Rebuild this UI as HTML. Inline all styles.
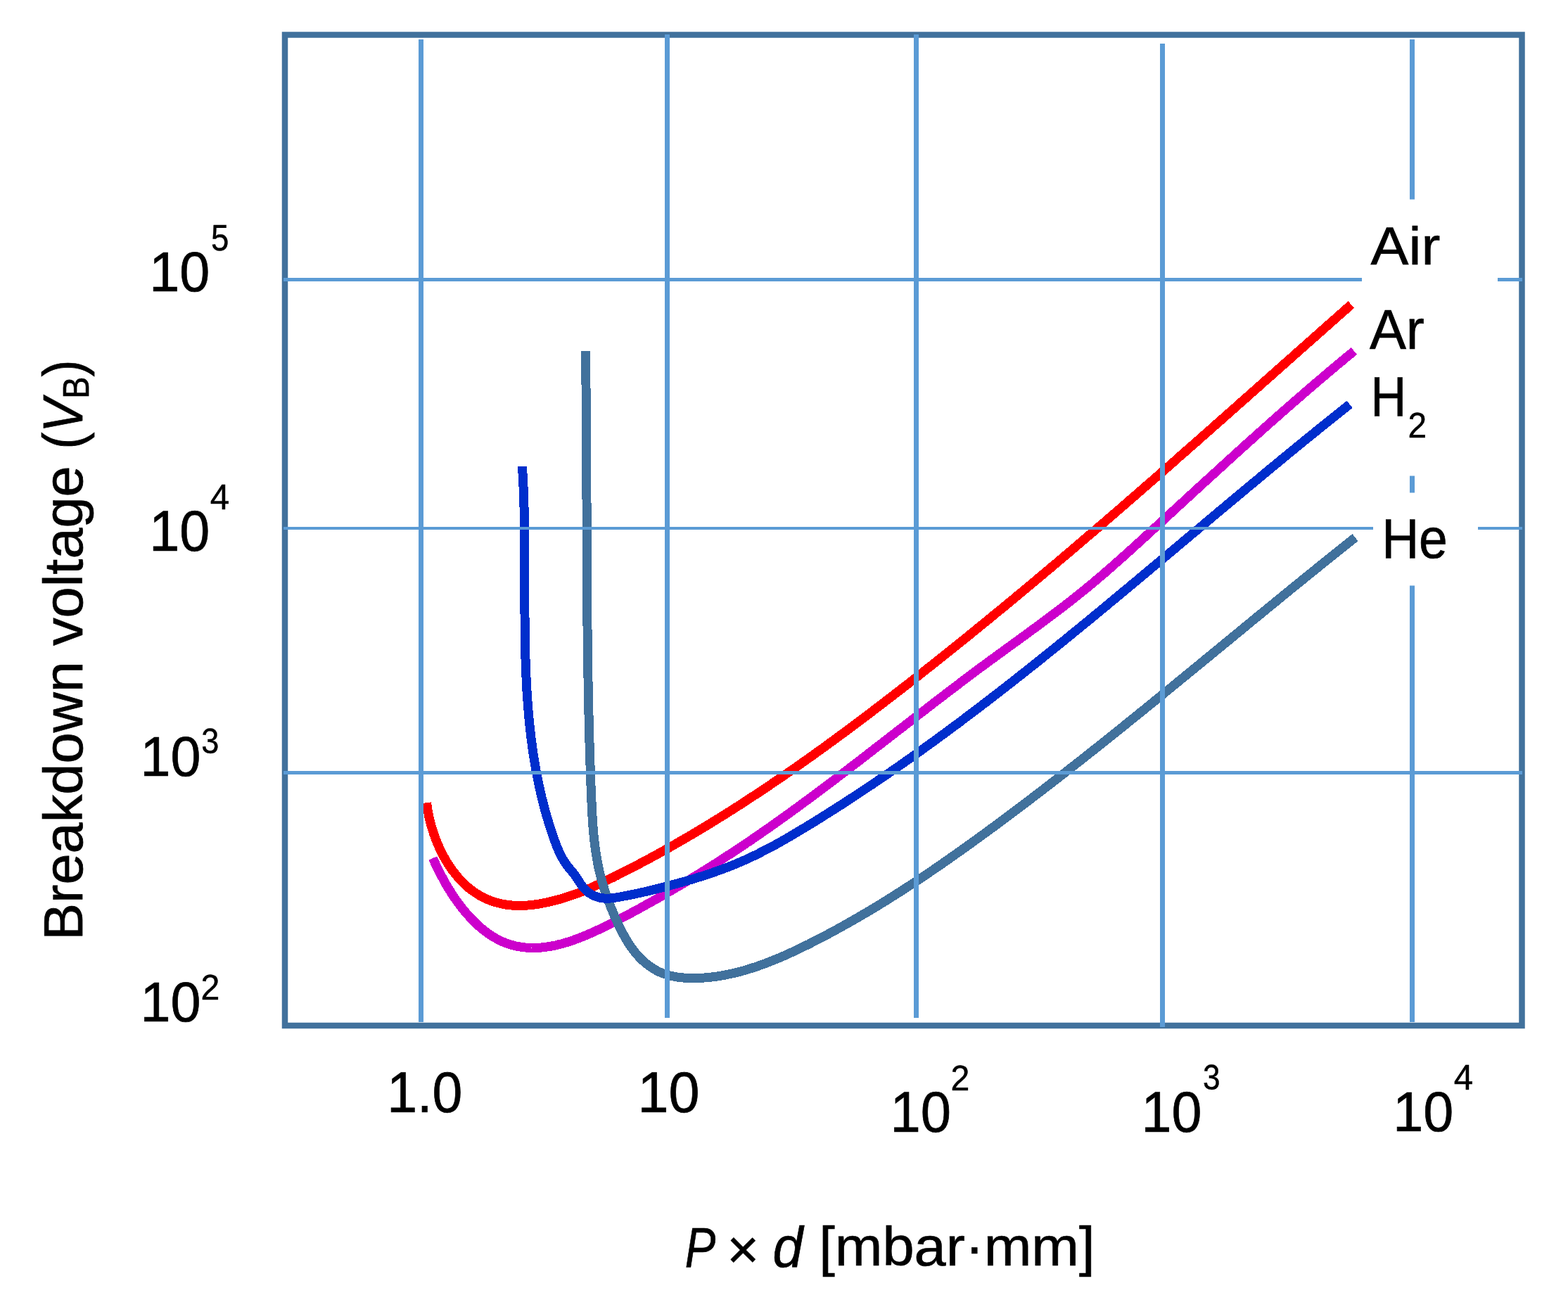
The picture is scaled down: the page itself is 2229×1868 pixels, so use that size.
<!DOCTYPE html>
<html><head><meta charset="utf-8"><title>Paschen curves</title>
<style>html,body{margin:0;padding:0;background:#fff;overflow:hidden}svg{display:block}text{font-family:'Liberation Sans', Arial, sans-serif;fill:#000;stroke:#000;stroke-width:0.9px}</style>
</head><body>
<svg width="2229" height="1868" viewBox="0 0 2229 1868">
<rect x='0' y='0' width='2229' height='1868' fill='#fff'/>
<rect x='405' y='49.5' width='1758.5' height='1408.5' fill='none' stroke='#41719C' stroke-width='8.5'/>
<path d='M615.4,1220.0 L617.0,1223.6 L618.6,1227.2 L620.4,1230.9 L622.1,1234.6 L623.9,1238.3 L625.8,1242.0 L627.8,1245.7 L629.8,1249.4 L631.8,1253.2 L633.9,1256.9 L636.1,1260.6 L638.3,1264.2 L640.6,1267.9 L642.9,1271.5 L645.3,1275.1 L647.8,1278.7 L650.3,1282.2 L652.8,1285.7 L655.5,1289.1 L658.1,1292.5 L660.8,1295.8 L663.6,1299.0 L666.4,1302.2 L669.3,1305.3 L672.2,1308.4 L675.2,1311.3 L678.2,1314.2 L681.2,1317.0 L684.4,1319.7 L687.5,1322.2 L690.7,1324.7 L694.0,1327.1 L697.3,1329.3 L700.7,1331.5 L704.1,1333.5 L707.5,1335.4 L711.0,1337.1 L714.5,1338.8 L718.1,1340.2 L721.7,1341.6 L725.4,1342.8 L729.1,1343.8 L732.8,1344.8 L736.5,1345.5 L740.3,1346.2 L744.1,1346.7 L747.9,1347.1 L751.7,1347.4 L755.5,1347.5 L759.3,1347.5 L763.1,1347.4 L767.0,1347.2 L770.8,1346.9 L774.7,1346.5 L778.5,1345.9 L782.4,1345.3 L786.3,1344.6 L790.2,1343.8 L794.1,1342.8 L797.9,1341.9 L801.8,1340.8 L805.7,1339.6 L809.6,1338.4 L813.5,1337.1 L817.4,1335.7 L821.3,1334.3 L825.2,1332.8 L829.1,1331.2 L833.0,1329.6 L836.9,1327.9 L840.8,1326.2 L844.7,1324.5 L848.6,1322.7 L852.4,1320.9 L856.3,1319.0 L860.2,1317.1 L864.0,1315.2 L867.9,1313.3 L871.7,1311.3 L875.5,1309.4 L879.3,1307.4 L883.1,1305.4 L886.9,1303.4 L890.7,1301.4 L894.5,1299.4 L898.3,1297.4 L902.0,1295.3 L905.7,1293.3 L909.5,1291.3 L913.2,1289.2 L916.9,1287.2 L920.6,1285.1 L924.3,1283.1 L928.0,1281.0 L931.6,1279.0 L935.3,1276.9 L938.9,1274.8 L942.6,1272.7 L946.2,1270.6 L949.8,1268.5 L953.5,1266.4 L957.1,1264.3 L960.7,1262.2 L964.2,1260.1 L967.8,1258.0 L971.4,1255.8 L975.0,1253.7 L978.5,1251.5 L982.1,1249.4 L985.6,1247.2 L989.2,1245.1 L992.7,1242.9 L996.2,1240.7 L999.7,1238.5 L1003.2,1236.3 L1006.7,1234.1 L1010.2,1231.9 L1013.7,1229.7 L1017.2,1227.5 L1020.7,1225.3 L1024.1,1223.1 L1027.6,1220.8 L1031.1,1218.6 L1034.5,1216.3 L1038.0,1214.1 L1041.4,1211.8 L1044.8,1209.5 L1048.3,1207.3 L1051.7,1205.0 L1055.1,1202.7 L1058.5,1200.4 L1061.9,1198.1 L1065.4,1195.8 L1068.8,1193.5 L1072.2,1191.1 L1075.6,1188.8 L1079.0,1186.5 L1082.3,1184.1 L1085.7,1181.8 L1089.1,1179.4 L1092.5,1177.1 L1095.9,1174.7 L1099.3,1172.3 L1102.6,1169.9 L1106.0,1167.5 L1109.4,1165.1 L1112.7,1162.7 L1116.1,1160.3 L1119.5,1157.9 L1122.8,1155.5 L1126.2,1153.0 L1129.5,1150.6 L1132.9,1148.2 L1136.2,1145.7 L1139.6,1143.3 L1142.9,1140.8 L1146.3,1138.3 L1149.6,1135.9 L1152.9,1133.4 L1156.3,1130.9 L1159.6,1128.4 L1163.0,1125.9 L1166.3,1123.4 L1169.6,1120.9 L1173.0,1118.4 L1176.3,1115.9 L1179.6,1113.4 L1182.9,1110.9 L1186.3,1108.4 L1189.6,1105.8 L1192.9,1103.3 L1196.2,1100.8 L1199.6,1098.3 L1202.9,1095.7 L1206.2,1093.2 L1209.5,1090.6 L1212.8,1088.1 L1216.1,1085.6 L1219.5,1083.0 L1222.8,1080.5 L1226.1,1077.9 L1229.4,1075.3 L1232.7,1072.8 L1236.0,1070.2 L1239.3,1067.7 L1242.6,1065.1 L1245.9,1062.5 L1249.3,1060.0 L1252.6,1057.4 L1255.9,1054.8 L1259.2,1052.3 L1262.5,1049.7 L1265.8,1047.1 L1269.1,1044.6 L1272.4,1042.0 L1275.7,1039.4 L1279.0,1036.9 L1282.4,1034.3 L1285.7,1031.7 L1289.0,1029.2 L1292.3,1026.6 L1295.6,1024.0 L1298.9,1021.5 L1302.2,1018.9 L1305.5,1016.3 L1308.8,1013.8 L1312.2,1011.2 L1315.5,1008.7 L1318.8,1006.1 L1322.1,1003.5 L1325.4,1001.0 L1328.7,998.4 L1332.0,995.9 L1335.4,993.3 L1338.7,990.8 L1342.0,988.3 L1345.3,985.7 L1348.7,983.2 L1352.0,980.6 L1355.3,978.1 L1358.6,975.6 L1362.0,973.1 L1365.3,970.5 L1368.6,968.0 L1372.0,965.5 L1375.3,963.0 L1378.6,960.5 L1382.0,958.0 L1385.3,955.5 L1388.6,953.0 L1392.0,950.5 L1395.3,948.0 L1398.7,945.6 L1402.0,943.1 L1405.4,940.6 L1408.7,938.2 L1412.1,935.7 L1415.4,933.3 L1418.8,930.8 L1422.2,928.4 L1425.5,925.9 L1428.9,923.5 L1432.2,921.0 L1435.6,918.6 L1439.0,916.2 L1442.3,913.7 L1445.7,911.3 L1449.0,908.8 L1452.4,906.4 L1455.7,904.0 L1459.1,901.5 L1462.4,899.1 L1465.8,896.6 L1469.1,894.2 L1472.5,891.7 L1475.8,889.3 L1479.1,886.8 L1482.5,884.3 L1485.8,881.9 L1489.1,879.4 L1492.4,876.9 L1495.7,874.4 L1499.1,871.9 L1502.4,869.4 L1505.7,866.9 L1509.0,864.4 L1512.2,861.9 L1515.5,859.3 L1518.8,856.8 L1522.1,854.2 L1525.3,851.7 L1528.6,849.1 L1531.9,846.5 L1535.1,843.9 L1538.3,841.3 L1541.6,838.7 L1544.8,836.0 L1548.0,833.4 L1551.2,830.7 L1554.4,828.1 L1557.6,825.4 L1560.8,822.7 L1563.9,820.0 L1567.1,817.3 L1570.3,814.6 L1573.4,811.8 L1576.6,809.1 L1579.7,806.4 L1582.9,803.6 L1586.0,800.8 L1589.1,798.1 L1592.2,795.3 L1595.4,792.5 L1598.5,789.7 L1601.6,786.9 L1604.7,784.1 L1607.8,781.3 L1610.9,778.5 L1614.0,775.7 L1617.1,772.9 L1620.2,770.1 L1623.3,767.2 L1626.4,764.4 L1629.4,761.6 L1632.5,758.8 L1635.6,755.9 L1638.7,753.1 L1641.7,750.3 L1644.8,747.5 L1647.9,744.6 L1651.0,741.8 L1654.0,739.0 L1657.1,736.2 L1660.2,733.3 L1663.3,730.5 L1666.3,727.7 L1669.4,724.9 L1672.5,722.1 L1675.5,719.2 L1678.6,716.4 L1681.7,713.6 L1684.7,710.8 L1687.8,708.0 L1690.9,705.2 L1693.9,702.3 L1697.0,699.5 L1700.1,696.7 L1703.1,693.9 L1706.2,691.1 L1709.3,688.3 L1712.3,685.5 L1715.4,682.7 L1718.5,679.9 L1721.5,677.1 L1724.6,674.3 L1727.7,671.5 L1730.7,668.7 L1733.8,665.9 L1736.9,663.1 L1739.9,660.3 L1743.0,657.5 L1746.1,654.7 L1749.2,651.9 L1752.2,649.1 L1755.3,646.3 L1758.4,643.5 L1761.5,640.7 L1764.6,638.0 L1767.6,635.2 L1770.7,632.4 L1773.8,629.6 L1776.9,626.8 L1780.0,624.1 L1783.1,621.3 L1786.2,618.5 L1789.3,615.8 L1792.3,613.0 L1795.4,610.2 L1798.5,607.5 L1801.6,604.7 L1804.7,601.9 L1807.9,599.2 L1811.0,596.4 L1814.1,593.7 L1817.2,590.9 L1820.3,588.2 L1823.4,585.4 L1826.5,582.7 L1829.7,580.0 L1832.8,577.2 L1835.9,574.5 L1839.0,571.7 L1842.2,569.0 L1845.3,566.3 L1848.5,563.6 L1851.6,560.8 L1854.8,558.1 L1857.9,555.4 L1861.1,552.7 L1864.2,550.0 L1867.4,547.3 L1870.5,544.6 L1873.7,541.9 L1876.9,539.2 L1880.0,536.5 L1883.2,533.8 L1886.4,531.1 L1889.6,528.4 L1892.8,525.7 L1896.0,523.0 L1899.2,520.3 L1902.4,517.6 L1905.6,515.0 L1908.8,512.3 L1912.0,509.6 L1915.2,507.0 L1918.4,504.3 L1921.7,501.7 L1924.9,499.0' fill='none' stroke='#CC00CC' stroke-width='13' stroke-linejoin='round' stroke-linecap='butt' shape-rendering='crispEdges'/>
<path d='M606.6,1141.2 L607.1,1145.2 L607.7,1149.2 L608.3,1153.2 L609.1,1157.3 L609.9,1161.4 L610.9,1165.5 L611.9,1169.7 L613.0,1173.8 L614.2,1178.0 L615.6,1182.1 L616.9,1186.2 L618.4,1190.4 L620.0,1194.5 L621.7,1198.5 L623.4,1202.6 L625.2,1206.6 L627.1,1210.6 L629.1,1214.5 L631.2,1218.4 L633.4,1222.2 L635.6,1226.0 L637.9,1229.6 L640.4,1233.3 L642.8,1236.8 L645.4,1240.2 L648.1,1243.6 L650.8,1246.9 L653.6,1250.0 L656.5,1253.1 L659.4,1256.0 L662.4,1258.9 L665.5,1261.6 L668.7,1264.1 L672.0,1266.6 L675.3,1268.9 L678.7,1271.1 L682.1,1273.1 L685.6,1275.0 L689.2,1276.8 L692.8,1278.5 L696.5,1280.0 L700.2,1281.3 L704.0,1282.6 L707.8,1283.6 L711.7,1284.6 L715.6,1285.4 L719.5,1286.1 L723.4,1286.6 L727.4,1287.0 L731.4,1287.3 L735.4,1287.5 L739.5,1287.5 L743.5,1287.4 L747.6,1287.2 L751.7,1286.9 L755.8,1286.5 L759.9,1286.0 L764.0,1285.4 L768.1,1284.7 L772.2,1283.9 L776.3,1283.1 L780.4,1282.2 L784.5,1281.2 L788.6,1280.2 L792.7,1279.1 L796.7,1278.0 L800.8,1276.8 L804.8,1275.5 L808.8,1274.2 L812.8,1272.9 L816.8,1271.5 L820.8,1270.0 L824.7,1268.5 L828.6,1266.9 L832.5,1265.3 L836.4,1263.7 L840.3,1262.0 L844.1,1260.3 L848.0,1258.5 L851.8,1256.8 L855.6,1255.0 L859.4,1253.1 L863.2,1251.3 L867.0,1249.5 L870.8,1247.6 L874.6,1245.7 L878.4,1243.8 L882.1,1241.9 L885.9,1240.0 L889.7,1238.1 L893.4,1236.2 L897.2,1234.3 L900.9,1232.3 L904.6,1230.4 L908.4,1228.4 L912.1,1226.4 L915.8,1224.4 L919.6,1222.4 L923.3,1220.4 L927.0,1218.4 L930.7,1216.4 L934.4,1214.4 L938.1,1212.3 L941.8,1210.3 L945.5,1208.2 L949.2,1206.2 L952.8,1204.1 L956.5,1202.0 L960.2,1199.9 L963.8,1197.8 L967.5,1195.7 L971.2,1193.6 L974.8,1191.5 L978.5,1189.3 L982.1,1187.2 L985.8,1185.0 L989.4,1182.9 L993.0,1180.7 L996.6,1178.5 L1000.3,1176.4 L1003.9,1174.2 L1007.5,1172.0 L1011.1,1169.8 L1014.7,1167.5 L1018.3,1165.3 L1021.9,1163.1 L1025.5,1160.8 L1029.1,1158.6 L1032.7,1156.4 L1036.3,1154.1 L1039.9,1151.8 L1043.4,1149.6 L1047.0,1147.3 L1050.6,1145.0 L1054.1,1142.7 L1057.7,1140.4 L1061.2,1138.1 L1064.8,1135.8 L1068.3,1133.4 L1071.9,1131.1 L1075.4,1128.8 L1079.0,1126.4 L1082.5,1124.1 L1086.0,1121.7 L1089.6,1119.4 L1093.1,1117.0 L1096.6,1114.6 L1100.1,1112.2 L1103.6,1109.9 L1107.1,1107.5 L1110.6,1105.1 L1114.1,1102.7 L1117.6,1100.3 L1121.1,1097.8 L1124.6,1095.4 L1128.1,1093.0 L1131.6,1090.6 L1135.1,1088.1 L1138.5,1085.7 L1142.0,1083.2 L1145.5,1080.8 L1149.0,1078.3 L1152.4,1075.9 L1155.9,1073.4 L1159.3,1070.9 L1162.8,1068.4 L1166.2,1066.0 L1169.7,1063.5 L1173.1,1061.0 L1176.6,1058.5 L1180.0,1056.0 L1183.5,1053.5 L1186.9,1051.0 L1190.3,1048.4 L1193.7,1045.9 L1197.2,1043.4 L1200.6,1040.9 L1204.0,1038.3 L1207.4,1035.8 L1210.8,1033.3 L1214.2,1030.7 L1217.7,1028.2 L1221.1,1025.6 L1224.5,1023.1 L1227.9,1020.5 L1231.3,1017.9 L1234.6,1015.4 L1238.0,1012.8 L1241.4,1010.2 L1244.8,1007.6 L1248.2,1005.1 L1251.6,1002.5 L1255.0,999.9 L1258.3,997.3 L1261.7,994.7 L1265.1,992.1 L1268.4,989.5 L1271.8,986.9 L1275.2,984.3 L1278.5,981.7 L1281.9,979.1 L1285.2,976.5 L1288.6,973.9 L1292.0,971.3 L1295.3,968.6 L1298.7,966.0 L1302.0,963.4 L1305.3,960.8 L1308.7,958.1 L1312.0,955.5 L1315.4,952.9 L1318.7,950.2 L1322.0,947.6 L1325.4,945.0 L1328.7,942.3 L1332.0,939.7 L1335.3,937.0 L1338.7,934.4 L1342.0,931.8 L1345.3,929.1 L1348.6,926.5 L1351.9,923.8 L1355.2,921.1 L1358.5,918.5 L1361.8,915.8 L1365.2,913.2 L1368.5,910.5 L1371.8,907.8 L1375.1,905.2 L1378.4,902.5 L1381.7,899.8 L1385.0,897.2 L1388.2,894.5 L1391.5,891.8 L1394.8,889.1 L1398.1,886.5 L1401.4,883.8 L1404.7,881.1 L1408.0,878.4 L1411.2,875.7 L1414.5,873.0 L1417.8,870.3 L1421.1,867.6 L1424.4,865.0 L1427.6,862.3 L1430.9,859.6 L1434.2,856.9 L1437.4,854.2 L1440.7,851.5 L1444.0,848.8 L1447.2,846.0 L1450.5,843.3 L1453.8,840.6 L1457.0,837.9 L1460.3,835.2 L1463.5,832.5 L1466.8,829.8 L1470.0,827.1 L1473.3,824.3 L1476.5,821.6 L1479.8,818.9 L1483.0,816.2 L1486.3,813.4 L1489.5,810.7 L1492.8,808.0 L1496.0,805.2 L1499.3,802.5 L1502.5,799.8 L1505.7,797.0 L1509.0,794.3 L1512.2,791.6 L1515.4,788.8 L1518.7,786.1 L1521.9,783.3 L1525.1,780.6 L1528.4,777.8 L1531.6,775.1 L1534.8,772.3 L1538.1,769.6 L1541.3,766.8 L1544.5,764.1 L1547.7,761.3 L1550.9,758.6 L1554.2,755.8 L1557.4,753.0 L1560.6,750.3 L1563.8,747.5 L1567.0,744.7 L1570.3,742.0 L1573.5,739.2 L1576.7,736.4 L1579.9,733.7 L1583.1,730.9 L1586.3,728.1 L1589.5,725.3 L1592.8,722.6 L1596.0,719.8 L1599.2,717.0 L1602.4,714.2 L1605.6,711.4 L1608.8,708.7 L1612.0,705.9 L1615.2,703.1 L1618.4,700.3 L1621.6,697.5 L1624.8,694.7 L1628.0,691.9 L1631.2,689.1 L1634.4,686.3 L1637.6,683.6 L1640.8,680.8 L1644.0,678.0 L1647.2,675.2 L1650.4,672.4 L1653.6,669.6 L1656.8,666.8 L1660.0,664.0 L1663.2,661.2 L1666.4,658.4 L1669.6,655.6 L1672.8,652.7 L1675.9,649.9 L1679.1,647.1 L1682.3,644.3 L1685.5,641.5 L1688.7,638.7 L1691.9,635.9 L1695.1,633.1 L1698.3,630.3 L1701.5,627.5 L1704.6,624.7 L1707.8,621.8 L1711.0,619.0 L1714.2,616.2 L1717.4,613.4 L1720.6,610.6 L1723.8,607.8 L1726.9,605.0 L1730.1,602.1 L1733.3,599.3 L1736.5,596.5 L1739.7,593.7 L1742.9,590.9 L1746.0,588.1 L1749.2,585.2 L1752.4,582.4 L1755.6,579.6 L1758.8,576.8 L1761.9,574.0 L1765.1,571.1 L1768.3,568.3 L1771.5,565.5 L1774.7,562.7 L1777.8,559.9 L1781.0,557.0 L1784.2,554.2 L1787.4,551.4 L1790.5,548.6 L1793.7,545.8 L1796.9,542.9 L1800.1,540.1 L1803.3,537.3 L1806.4,534.5 L1809.6,531.6 L1812.8,528.8 L1816.0,526.0 L1819.1,523.2 L1822.3,520.4 L1825.5,517.5 L1828.7,514.7 L1831.8,511.9 L1835.0,509.1 L1838.2,506.3 L1841.4,503.4 L1844.5,500.6 L1847.7,497.8 L1850.9,495.0 L1854.1,492.2 L1857.3,489.3 L1860.4,486.5 L1863.6,483.7 L1866.8,480.9 L1870.0,478.1 L1873.1,475.3 L1876.3,472.5 L1879.5,469.6 L1882.7,466.8 L1885.8,464.0 L1889.0,461.2 L1892.2,458.4 L1895.4,455.6 L1898.6,452.8 L1901.7,450.0 L1904.9,447.1 L1908.1,444.3 L1911.3,441.5 L1914.4,438.7 L1917.6,435.9 L1920.8,433.1' fill='none' stroke='#FF0000' stroke-width='13' stroke-linejoin='round' stroke-linecap='butt' shape-rendering='crispEdges'/>
<path d='M832.4,499.0 L832.5,504.3 L832.5,509.5 L832.6,514.8 L832.7,520.1 L832.7,525.4 L832.8,530.6 L832.9,535.9 L832.9,541.2 L833.0,546.5 L833.0,551.7 L833.1,557.0 L833.1,562.3 L833.2,567.6 L833.2,572.8 L833.3,578.1 L833.3,583.4 L833.4,588.7 L833.4,593.9 L833.4,599.2 L833.5,604.5 L833.5,609.8 L833.5,615.0 L833.6,620.3 L833.6,625.6 L833.6,630.9 L833.6,636.1 L833.7,641.4 L833.7,646.7 L833.7,652.0 L833.8,657.3 L833.8,662.5 L833.8,667.8 L833.8,673.1 L833.8,678.4 L833.9,683.6 L833.9,688.9 L833.9,694.2 L833.9,699.5 L833.9,704.8 L834.0,710.0 L834.0,715.3 L834.0,720.6 L834.0,725.9 L834.0,731.2 L834.1,736.4 L834.1,741.7 L834.1,747.0 L834.1,752.3 L834.1,757.6 L834.2,762.8 L834.2,768.1 L834.2,773.4 L834.2,778.7 L834.3,784.0 L834.3,789.2 L834.3,794.5 L834.3,799.8 L834.4,805.1 L834.4,810.4 L834.4,815.6 L834.4,820.9 L834.5,826.2 L834.5,831.5 L834.5,836.8 L834.6,842.0 L834.6,847.3 L834.7,852.6 L834.7,857.9 L834.7,863.2 L834.8,868.4 L834.8,873.7 L834.9,879.0 L834.9,884.3 L835.0,889.6 L835.0,894.8 L835.1,900.1 L835.2,905.4 L835.2,910.7 L835.3,916.0 L835.3,921.2 L835.4,926.5 L835.5,931.8 L835.6,937.1 L835.6,942.4 L835.7,947.6 L835.8,952.9 L835.9,958.2 L836.0,963.5 L836.0,968.7 L836.1,974.0 L836.2,979.3 L836.3,984.6 L836.4,989.9 L836.5,995.1 L836.7,1000.4 L836.8,1005.7 L836.9,1011.0 L837.0,1016.2 L837.1,1021.5 L837.2,1026.8 L837.4,1032.1 L837.5,1037.4 L837.7,1042.6 L837.8,1047.9 L837.9,1053.2 L838.1,1058.5 L838.2,1063.7 L838.4,1069.0 L838.6,1074.3 L838.7,1079.6 L838.9,1084.8 L839.1,1090.1 L839.3,1095.4 L839.4,1100.7 L839.6,1105.9 L839.8,1111.2 L840.0,1116.5 L840.2,1121.8 L840.4,1127.0 L840.7,1132.3 L840.9,1137.6 L841.1,1142.8 L841.4,1148.1 L841.6,1153.4 L841.9,1158.6 L842.2,1163.9 L842.6,1169.1 L842.9,1174.4 L843.4,1179.6 L843.8,1184.9 L844.3,1190.1 L844.9,1195.3 L845.5,1200.5 L846.2,1205.7 L846.9,1210.9 L847.7,1216.1 L848.6,1221.2 L849.5,1226.4 L850.5,1231.5 L851.6,1236.6 L852.8,1241.7 L854.1,1246.8 L855.5,1251.8 L856.9,1256.9 L858.5,1261.9 L860.1,1267.0 L861.8,1272.0 L863.5,1277.0 L865.4,1282.0 L867.3,1287.0 L869.3,1292.0 L871.4,1297.0 L873.5,1302.0 L875.7,1307.0 L878.0,1311.9 L880.3,1316.9 L882.7,1321.8 L885.2,1326.7 L887.9,1331.4 L890.6,1336.1 L893.4,1340.7 L896.4,1345.2 L899.4,1349.5 L902.6,1353.6 L906.0,1357.6 L909.5,1361.5 L913.1,1365.1 L916.9,1368.5 L920.8,1371.6 L924.9,1374.6 L929.1,1377.3 L933.4,1379.8 L937.9,1382.0 L942.5,1383.9 L947.3,1385.5 L952.1,1386.9 L957.1,1388.0 L962.1,1388.9 L967.2,1389.6 L972.4,1390.1 L977.6,1390.4 L982.8,1390.6 L988.1,1390.6 L993.3,1390.4 L998.6,1390.2 L1003.8,1389.8 L1009.0,1389.3 L1014.2,1388.7 L1019.4,1388.0 L1024.6,1387.2 L1029.7,1386.3 L1034.9,1385.2 L1040.0,1384.1 L1045.1,1383.0 L1050.2,1381.7 L1055.3,1380.3 L1060.4,1378.9 L1065.4,1377.3 L1070.5,1375.7 L1075.5,1374.1 L1080.5,1372.3 L1085.5,1370.5 L1090.5,1368.7 L1095.4,1366.7 L1100.4,1364.7 L1105.3,1362.7 L1110.2,1360.6 L1115.2,1358.5 L1120.0,1356.3 L1124.9,1354.1 L1129.8,1351.8 L1134.6,1349.5 L1139.4,1347.2 L1144.3,1344.8 L1149.1,1342.5 L1153.8,1340.1 L1158.6,1337.6 L1163.3,1335.2 L1168.1,1332.7 L1172.8,1330.3 L1177.5,1327.8 L1182.2,1325.3 L1186.9,1322.7 L1191.5,1320.2 L1196.2,1317.6 L1200.8,1315.0 L1205.4,1312.4 L1210.0,1309.8 L1214.6,1307.2 L1219.2,1304.6 L1223.8,1301.9 L1228.3,1299.2 L1232.9,1296.6 L1237.4,1293.9 L1241.9,1291.1 L1246.4,1288.4 L1250.9,1285.7 L1255.4,1282.9 L1259.9,1280.1 L1264.4,1277.3 L1268.8,1274.5 L1273.3,1271.7 L1277.7,1268.9 L1282.1,1266.1 L1286.5,1263.2 L1290.9,1260.4 L1295.3,1257.5 L1299.7,1254.6 L1304.1,1251.7 L1308.5,1248.8 L1312.8,1245.9 L1317.2,1243.0 L1321.5,1240.0 L1325.9,1237.1 L1330.2,1234.1 L1334.5,1231.1 L1338.8,1228.2 L1343.1,1225.2 L1347.4,1222.2 L1351.7,1219.2 L1356.0,1216.1 L1360.3,1213.1 L1364.6,1210.1 L1368.9,1207.0 L1373.1,1204.0 L1377.4,1200.9 L1381.7,1197.9 L1385.9,1194.8 L1390.2,1191.7 L1394.4,1188.6 L1398.7,1185.5 L1402.9,1182.4 L1407.2,1179.3 L1411.4,1176.2 L1415.6,1173.1 L1419.8,1170.0 L1424.1,1166.8 L1428.3,1163.7 L1432.5,1160.6 L1436.7,1157.4 L1440.9,1154.2 L1445.1,1151.1 L1449.3,1147.9 L1453.5,1144.7 L1457.7,1141.6 L1461.9,1138.4 L1466.1,1135.2 L1470.3,1132.0 L1474.5,1128.8 L1478.7,1125.6 L1482.9,1122.4 L1487.0,1119.2 L1491.2,1116.0 L1495.4,1112.7 L1499.6,1109.5 L1503.7,1106.3 L1507.9,1103.0 L1512.1,1099.8 L1516.2,1096.5 L1520.4,1093.3 L1524.5,1090.0 L1528.7,1086.8 L1532.8,1083.5 L1537.0,1080.3 L1541.1,1077.0 L1545.3,1073.7 L1549.4,1070.4 L1553.6,1067.1 L1557.7,1063.9 L1561.8,1060.6 L1566.0,1057.3 L1570.1,1054.0 L1574.2,1050.7 L1578.4,1047.4 L1582.5,1044.1 L1586.6,1040.8 L1590.7,1037.5 L1594.9,1034.2 L1599.0,1030.8 L1603.1,1027.5 L1607.2,1024.2 L1611.3,1020.9 L1615.4,1017.6 L1619.5,1014.2 L1623.7,1010.9 L1627.8,1007.6 L1631.9,1004.2 L1636.0,1000.9 L1640.1,997.6 L1644.2,994.2 L1648.3,990.9 L1652.4,987.5 L1656.5,984.2 L1660.6,980.8 L1664.7,977.5 L1668.8,974.1 L1672.9,970.8 L1677.0,967.4 L1681.1,964.1 L1685.2,960.7 L1689.2,957.4 L1693.3,954.0 L1697.4,950.7 L1701.5,947.3 L1705.6,944.0 L1709.7,940.6 L1713.8,937.2 L1717.9,933.9 L1722.0,930.5 L1726.0,927.2 L1730.1,923.8 L1734.2,920.5 L1738.3,917.1 L1742.4,913.7 L1746.5,910.4 L1750.6,907.0 L1754.6,903.7 L1758.7,900.3 L1762.8,897.0 L1766.9,893.6 L1771.0,890.2 L1775.1,886.9 L1779.1,883.5 L1783.2,880.2 L1787.3,876.8 L1791.4,873.5 L1795.5,870.1 L1799.6,866.8 L1803.6,863.4 L1807.7,860.1 L1811.8,856.8 L1815.9,853.4 L1820.0,850.1 L1824.1,846.7 L1828.2,843.4 L1832.3,840.1 L1836.3,836.7 L1840.4,833.4 L1844.5,830.1 L1848.6,826.8 L1852.7,823.4 L1856.8,820.1 L1860.9,816.8 L1865.0,813.5 L1869.1,810.2 L1873.2,806.9 L1877.3,803.5 L1881.4,800.2 L1885.5,796.9 L1889.6,793.6 L1893.7,790.4 L1897.8,787.1 L1901.9,783.8 L1906.0,780.5 L1910.1,777.2 L1914.2,773.9 L1918.3,770.7 L1922.4,767.4 L1926.5,764.1' fill='none' stroke='#41719C' stroke-width='13' stroke-linejoin='round' stroke-linecap='butt' shape-rendering='crispEdges'/>
<path d='M742.5,663.0 L742.8,667.8 L743.0,672.6 L743.3,677.4 L743.5,682.2 L743.8,687.0 L744.0,691.8 L744.2,696.6 L744.4,701.4 L744.5,706.2 L744.7,711.1 L744.8,715.9 L745.0,720.8 L745.1,725.6 L745.2,730.5 L745.3,735.3 L745.4,740.2 L745.4,745.1 L745.5,749.9 L745.6,754.8 L745.6,759.7 L745.7,764.6 L745.7,769.4 L745.7,774.3 L745.8,779.2 L745.8,784.1 L745.8,789.0 L745.8,793.9 L745.8,798.8 L745.8,803.7 L745.8,808.6 L745.8,813.5 L745.8,818.5 L745.8,823.4 L745.8,828.3 L745.8,833.2 L745.9,838.1 L745.9,843.0 L745.9,848.0 L745.9,852.9 L745.9,857.8 L745.9,862.7 L745.9,867.6 L746.0,872.6 L746.0,877.5 L746.0,882.4 L746.1,887.3 L746.1,892.2 L746.2,897.2 L746.3,902.1 L746.3,907.0 L746.4,911.9 L746.5,916.8 L746.6,921.7 L746.7,926.7 L746.9,931.6 L747.0,936.5 L747.2,941.4 L747.3,946.3 L747.5,951.2 L747.7,956.1 L747.9,961.0 L748.2,965.9 L748.4,970.8 L748.7,975.7 L748.9,980.5 L749.2,985.4 L749.6,990.3 L749.9,995.2 L750.2,1000.0 L750.6,1004.9 L751.0,1009.8 L751.4,1014.6 L751.8,1019.5 L752.3,1024.3 L752.8,1029.2 L753.3,1034.0 L753.8,1038.8 L754.4,1043.7 L754.9,1048.5 L755.5,1053.3 L756.2,1058.1 L756.8,1062.9 L757.5,1067.7 L758.2,1072.5 L759.0,1077.3 L759.7,1082.0 L760.5,1086.8 L761.3,1091.6 L762.2,1096.3 L763.1,1101.1 L764.0,1105.8 L765.0,1110.6 L765.9,1115.3 L767.0,1120.0 L768.0,1124.7 L769.1,1129.4 L770.2,1134.1 L771.4,1138.8 L772.6,1143.5 L773.8,1148.1 L775.0,1152.8 L776.3,1157.4 L777.7,1162.1 L779.1,1166.7 L780.5,1171.3 L781.9,1175.9 L783.4,1180.5 L785.0,1185.1 L786.6,1189.7 L788.2,1194.3 L789.9,1198.8 L791.6,1203.3 L793.5,1207.8 L795.4,1212.2 L797.6,1216.6 L799.9,1220.8 L802.3,1224.9 L805.0,1228.9 L808.0,1232.8 L811.1,1236.5 L814.3,1240.3 L817.3,1244.1 L820.1,1248.2 L822.8,1252.4 L825.4,1256.6 L828.2,1260.5 L831.3,1264.1 L834.7,1267.3 L838.3,1270.0 L842.2,1272.3 L846.3,1274.2 L850.6,1275.7 L854.9,1276.6 L859.4,1277.1 L863.8,1277.2 L868.3,1277.0 L872.8,1276.4 L877.4,1275.7 L881.9,1274.9 L886.4,1274.1 L891.0,1273.2 L895.5,1272.3 L900.1,1271.4 L904.6,1270.4 L909.1,1269.4 L913.7,1268.4 L918.2,1267.4 L922.8,1266.3 L927.4,1265.2 L931.9,1264.1 L936.5,1262.9 L941.1,1261.8 L945.7,1260.6 L950.3,1259.4 L954.9,1258.1 L959.6,1256.9 L964.2,1255.6 L968.8,1254.3 L973.5,1253.0 L978.1,1251.6 L982.7,1250.3 L987.4,1248.9 L992.0,1247.4 L996.7,1246.0 L1001.3,1244.5 L1005.9,1243.0 L1010.5,1241.4 L1015.2,1239.8 L1019.8,1238.2 L1024.3,1236.6 L1028.9,1234.9 L1033.5,1233.1 L1038.0,1231.4 L1042.6,1229.5 L1047.1,1227.7 L1051.6,1225.8 L1056.0,1223.8 L1060.5,1221.9 L1064.9,1219.8 L1069.3,1217.8 L1073.7,1215.7 L1078.1,1213.5 L1082.4,1211.3 L1086.7,1209.1 L1091.1,1206.9 L1095.4,1204.6 L1099.6,1202.3 L1103.9,1200.0 L1108.2,1197.6 L1112.4,1195.2 L1116.6,1192.8 L1120.9,1190.4 L1125.1,1187.9 L1129.3,1185.4 L1133.5,1182.9 L1137.6,1180.4 L1141.8,1177.9 L1146.0,1175.4 L1150.1,1172.9 L1154.3,1170.3 L1158.4,1167.8 L1162.6,1165.2 L1166.7,1162.6 L1170.8,1160.0 L1175.0,1157.4 L1179.1,1154.8 L1183.2,1152.2 L1187.3,1149.6 L1191.4,1147.0 L1195.5,1144.4 L1199.6,1141.7 L1203.7,1139.1 L1207.7,1136.4 L1211.8,1133.8 L1215.9,1131.1 L1219.9,1128.4 L1224.0,1125.7 L1228.0,1123.0 L1232.1,1120.3 L1236.1,1117.6 L1240.2,1114.9 L1244.2,1112.2 L1248.2,1109.5 L1252.3,1106.7 L1256.3,1104.0 L1260.3,1101.2 L1264.3,1098.5 L1268.3,1095.7 L1272.3,1092.9 L1276.3,1090.2 L1280.3,1087.4 L1284.3,1084.6 L1288.2,1081.8 L1292.2,1079.0 L1296.2,1076.2 L1300.2,1073.4 L1304.1,1070.5 L1308.1,1067.7 L1312.0,1064.9 L1316.0,1062.0 L1319.9,1059.2 L1323.9,1056.3 L1327.8,1053.5 L1331.7,1050.6 L1335.7,1047.7 L1339.6,1044.8 L1343.5,1042.0 L1347.4,1039.1 L1351.3,1036.2 L1355.2,1033.3 L1359.2,1030.4 L1363.1,1027.5 L1367.0,1024.5 L1370.9,1021.6 L1374.7,1018.7 L1378.6,1015.8 L1382.5,1012.8 L1386.4,1009.9 L1390.3,1006.9 L1394.1,1004.0 L1398.0,1001.0 L1401.9,998.1 L1405.7,995.1 L1409.6,992.1 L1413.5,989.1 L1417.3,986.2 L1421.2,983.2 L1425.0,980.2 L1428.9,977.2 L1432.7,974.2 L1436.5,971.2 L1440.4,968.2 L1444.2,965.2 L1448.0,962.2 L1451.9,959.1 L1455.7,956.1 L1459.5,953.1 L1463.3,950.1 L1467.2,947.0 L1471.0,944.0 L1474.8,941.0 L1478.6,937.9 L1482.4,934.9 L1486.2,931.8 L1490.0,928.8 L1493.8,925.7 L1497.6,922.6 L1501.4,919.6 L1505.2,916.5 L1509.0,913.4 L1512.8,910.4 L1516.6,907.3 L1520.4,904.2 L1524.1,901.1 L1527.9,898.0 L1531.7,895.0 L1535.5,891.9 L1539.2,888.8 L1543.0,885.7 L1546.8,882.6 L1550.6,879.5 L1554.3,876.4 L1558.1,873.3 L1561.9,870.2 L1565.6,867.1 L1569.4,864.0 L1573.2,860.9 L1576.9,857.7 L1580.7,854.6 L1584.4,851.5 L1588.2,848.4 L1591.9,845.3 L1595.7,842.1 L1599.5,839.0 L1603.2,835.9 L1607.0,832.8 L1610.7,829.6 L1614.5,826.5 L1618.2,823.4 L1621.9,820.3 L1625.7,817.1 L1629.4,814.0 L1633.2,810.9 L1636.9,807.7 L1640.7,804.6 L1644.4,801.5 L1648.2,798.3 L1651.9,795.2 L1655.6,792.0 L1659.4,788.9 L1663.1,785.8 L1666.9,782.6 L1670.6,779.5 L1674.3,776.3 L1678.1,773.2 L1681.8,770.1 L1685.5,766.9 L1689.3,763.8 L1693.0,760.6 L1696.8,757.5 L1700.5,754.4 L1704.2,751.2 L1708.0,748.1 L1711.7,745.0 L1715.4,741.8 L1719.2,738.7 L1722.9,735.5 L1726.7,732.4 L1730.4,729.3 L1734.1,726.1 L1737.9,723.0 L1741.6,719.9 L1745.4,716.7 L1749.1,713.6 L1752.8,710.5 L1756.6,707.3 L1760.3,704.2 L1764.1,701.1 L1767.8,698.0 L1771.6,694.8 L1775.3,691.7 L1779.1,688.6 L1782.8,685.5 L1786.6,682.4 L1790.3,679.3 L1794.1,676.1 L1797.8,673.0 L1801.6,669.9 L1805.3,666.8 L1809.1,663.7 L1812.8,660.6 L1816.6,657.5 L1820.3,654.4 L1824.1,651.3 L1827.9,648.2 L1831.6,645.1 L1835.4,642.0 L1839.2,638.9 L1842.9,635.8 L1846.7,632.8 L1850.5,629.7 L1854.2,626.6 L1858.0,623.5 L1861.8,620.5 L1865.6,617.4 L1869.4,614.3 L1873.1,611.3 L1876.9,608.2 L1880.7,605.2 L1884.5,602.1 L1888.3,599.1 L1892.1,596.0 L1895.9,593.0 L1899.7,589.9 L1903.5,586.9 L1907.3,583.9 L1911.1,580.8 L1914.9,577.8 L1918.7,574.8' fill='none' stroke='#002ECC' stroke-width='13' stroke-linejoin='round' stroke-linecap='butt' shape-rendering='crispEdges'/>
<rect x='595' y='56' width='7' height='1397' fill='#5B9BD5'/>
<rect x='945' y='49' width='7' height='1398' fill='#5B9BD5'/>
<rect x='1299' y='49' width='7' height='1398' fill='#5B9BD5'/>
<rect x='1649' y='62' width='7' height='1398' fill='#5B9BD5'/>
<rect x='2004' y='56' width='7' height='1397' fill='#5B9BD5'/>
<rect x='403' y='395' width='1761' height='5' fill='#5B9BD5'/>
<rect x='403' y='749' width='1761' height='4' fill='#5B9BD5'/>
<rect x='403' y='1096' width='1761' height='5' fill='#5B9BD5'/>
<rect x='1936' y='283.5' width='193' height='393' fill='#fff'/>
<rect x='1952' y='700.5' width='149' height='132' fill='#fff'/>
<text transform='translate(212.19,413.99) scale(0.7733,0.8056)' font-size='100'>10</text>
<text transform='translate(300.07,355.68) scale(0.4563,0.5171)' font-size='100'>5</text>
<text transform='translate(212.19,783.09) scale(0.7733,0.8070)' font-size='100'>10</text>
<text transform='translate(298.81,723.80) scale(0.4941,0.4971)' font-size='100'>4</text>
<text transform='translate(199.39,1103.00) scale(0.7733,0.8000)' font-size='100'>10</text>
<text transform='translate(286.25,1071.10) scale(0.4510,0.5028)' font-size='100'>3</text>
<text transform='translate(199.39,1452.01) scale(0.7733,0.7930)' font-size='100'>10</text>
<text transform='translate(285.39,1421.00) scale(0.4826,0.5014)' font-size='100'>2</text>
<text transform='translate(550.31,1580.99) scale(0.7698,0.8070)' font-size='100'>1.0</text>
<text transform='translate(906.46,1580.69) scale(0.7921,0.8099)' font-size='100'>10</text>
<text transform='translate(1265.56,1608.99) scale(0.7772,0.8070)' font-size='100'>10</text>
<text transform='translate(1351.39,1550.00) scale(0.4826,0.5000)' font-size='100'>2</text>
<text transform='translate(1622.59,1608.99) scale(0.7723,0.8070)' font-size='100'>10</text>
<text transform='translate(1710.08,1549.49) scale(0.4408,0.5070)' font-size='100'>3</text>
<text transform='translate(1980.29,1608.20) scale(0.7733,0.7972)' font-size='100'>10</text>
<text transform='translate(2066.81,1548.90) scale(0.4941,0.5014)' font-size='100'>4</text>
<text transform='translate(1948.60,376.10) scale(0.8083,0.7658)' font-size='100'>Air</text>
<text transform='translate(1946.90,495.60) scale(0.7788,0.7913)' font-size='100'>Ar</text>
<text transform='translate(1948.39,590.60) scale(0.7018,0.7913)' font-size='100'>H</text>
<text transform='translate(2001.61,621.90) scale(0.4783,0.5000)' font-size='100'>2</text>
<text transform='translate(1964.14,793.20) scale(0.7328,0.8014)' font-size='100'>He</text>
<text transform='translate(973.84,1800.90) scale(0.6524,0.7957)' font-size='100'><tspan font-style='italic'>P</tspan></text>
<text transform='translate(1033.44,1802.60) scale(0.7800,0.7822)' font-size='100'>×</text>
<text transform='translate(1098.49,1800.99) scale(0.7714,0.8108)' font-size='100'><tspan font-style='italic'>d</tspan></text>
<text transform='translate(1164.22,1798.63) scale(0.8117,0.7702)' font-size='100'>[mbar·mm]</text>
<text transform='translate(117.31,1336.85) rotate(-90) scale(0.7932,0.7851)' font-size='100'>Breakdown voltage</text>
<text transform='translate(116.93,638.62) rotate(-90) scale(0.7194,0.7936)' font-size='100'>(<tspan font-style='italic'>V</tspan><tspan font-size='65' dy='12'>B</tspan><tspan dy='-12'>)</tspan></text>
</svg>
</body></html>
